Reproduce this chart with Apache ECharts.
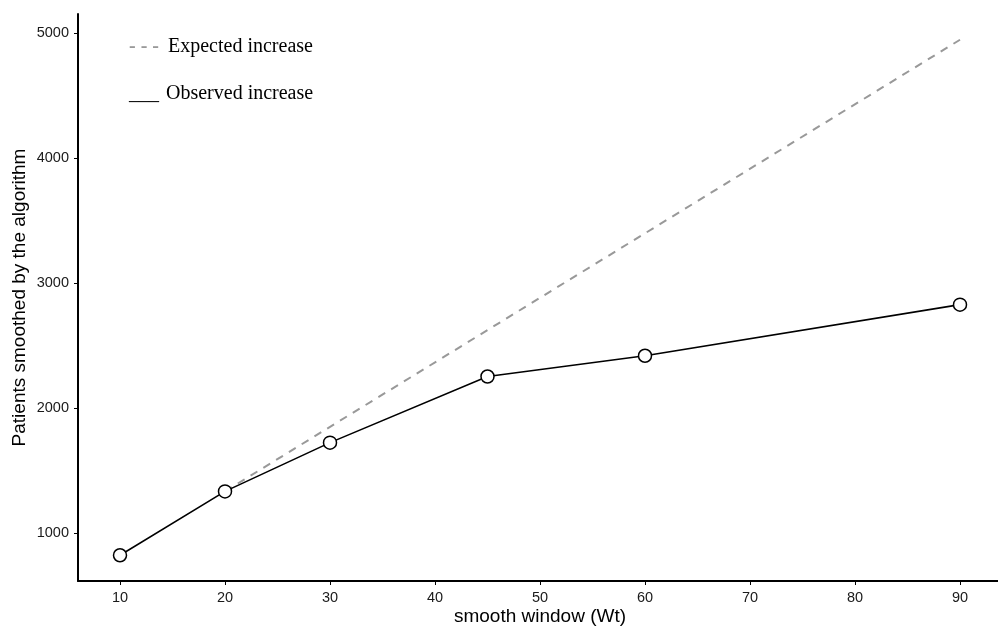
<!DOCTYPE html>
<html>
<head>
<meta charset="utf-8">
<script src="https://cdn.jsdelivr.net/npm/echarts@6/dist/echarts.min.js"></script>
<style>
html,body{margin:0;padding:0;background:#fff;}
#main{width:998px;height:626px;}
</style>
</head>
<body>
<div id="main"></div>
<script>
// ---- data ----
var windowSizes = [10, 20, 30, 45, 60, 90];
var observed = [821, 1332, 1722, 2251, 2417, 2826];
var expectedX = [20, 90];
var expected = [1332, 4945];
var xTicks = [10, 20, 30, 40, 50, 60, 70, 80, 90];
var yTicks = [1000, 2000, 3000, 4000, 5000];
var legendLabels = ['Expected increase', 'Observed increase'];

var chart = echarts.init(document.getElementById('main'), null, {renderer: 'canvas'});

var obsData = windowSizes.map(function (x, i) { return [x, observed[i]]; });
var expData = expectedX.map(function (x, i) { return [x, expected[i]]; });

var sans = 'Liberation Sans';
var serif = 'Liberation Serif';

chart.setOption({
  animation: false,
  backgroundColor: '#ffffff',
  grid: {left: 78, right: -4, top: 14, bottom: 45, containLabel: false, outerBoundsMode: 'none'},
  xAxis: {
    type: 'value',
    min: 6,
    max: 94,
    name: 'smooth window (Wt)',
    nameLocation: 'middle',
    nameGap: 26,
    nameMoveOverlap: false,
    nameTextStyle: {fontFamily: sans, fontSize: 19, color: '#000'},
    axisLine: {show: true, lineStyle: {color: '#000', width: 2}},
    axisTick: {show: true, length: 4, lineStyle: {color: '#000', width: 1}, customValues: xTicks},
    axisLabel: {fontFamily: sans, fontSize: 14.5, color: '#1a1a1a', margin: 9, customValues: xTicks,
      formatter: function (v) { return String(v); }},
    splitLine: {show: false}
  },
  yAxis: {
    type: 'value',
    min: 615,
    max: 5151,
    name: 'Patients smoothed by the algorithm',
    nameLocation: 'middle',
    nameGap: 49,
    nameMoveOverlap: false,
    nameTextStyle: {fontFamily: sans, fontSize: 19, color: '#000'},
    axisLine: {show: true, lineStyle: {color: '#000', width: 2}},
    axisTick: {show: true, length: 4, lineStyle: {color: '#000', width: 1}, customValues: yTicks},
    axisLabel: {fontFamily: sans, fontSize: 14.5, color: '#1a1a1a', margin: 9, customValues: yTicks,
      formatter: function (v) { return String(v); }},
    splitLine: {show: false}
  },
  series: [
    {
      name: legendLabels[0],
      type: 'line',
      data: expData,
      symbol: 'none',
      lineStyle: {color: '#999999', width: 2, type: [8, 7]},
      z: 1
    },
    {
      name: legendLabels[1],
      type: 'line',
      data: obsData,
      symbol: 'circle',
      symbolSize: 13,
      itemStyle: {color: '#ffffff', borderColor: '#000', borderWidth: 1.5},
      lineStyle: {color: '#000', width: 1.6},
      z: 2
    }
  ],
  graphic: [
    {type: 'text', left: 129, top: 37, style: {text: '- - -', fontFamily: serif, fontSize: 20, fontWeight: 'bold', fill: '#999999'}},
    {type: 'text', left: 168, top: 37, style: {text: legendLabels[0], fontFamily: serif, fontSize: 20, fill: '#000'}},
    {type: 'text', left: 129, top: 84, style: {text: '___', fontFamily: serif, fontSize: 20, fill: '#000'}},
    {type: 'text', left: 166, top: 84, style: {text: legendLabels[1], fontFamily: serif, fontSize: 20, fill: '#000'}}
  ]
});
</script>
</body>
</html>
